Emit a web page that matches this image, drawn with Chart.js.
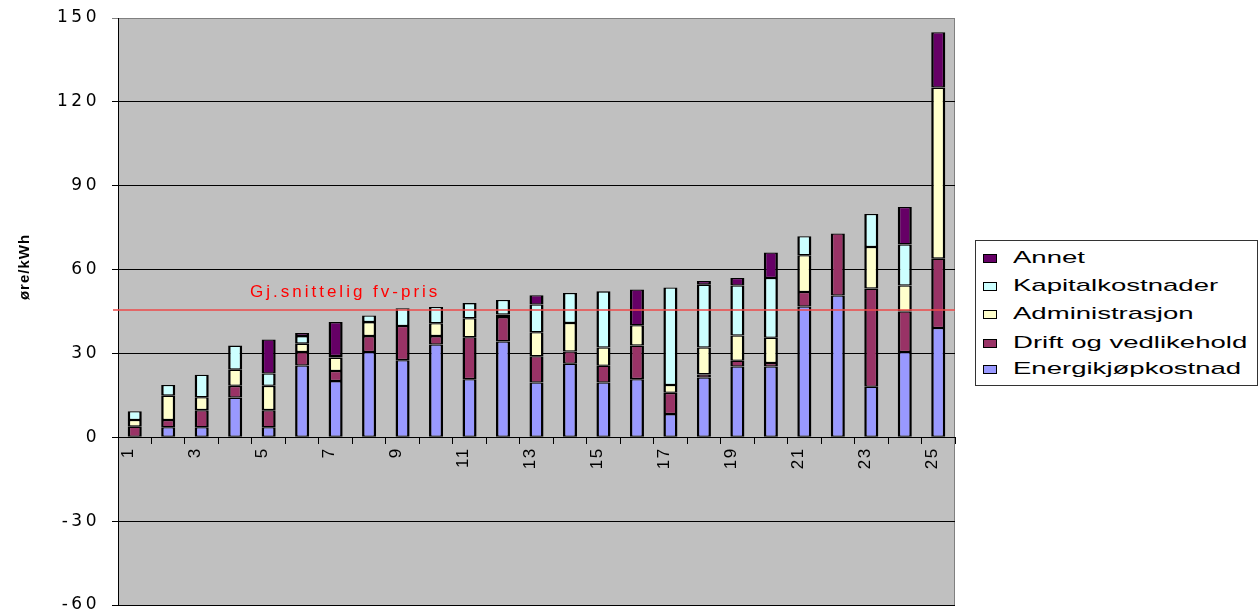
<!DOCTYPE html>
<html>
<head>
<meta charset="utf-8">
<script src="https://cdn.jsdelivr.net/npm/chart.js@4"></script>
<style>
  body { margin: 0; background: #fff; }
  #wrap { position: relative; width: 1260px; height: 613px; }
  #legend {
    position: absolute; left: 975px; top: 240px; width: 283px; height: 146px;
    box-sizing: border-box; border: 1px solid #333; background: #fff;
  }
  .legend-item { position: absolute; left: 7px; height: 20px; }
  .legend-item .sw { position: absolute; left: 0; top: 6px; width: 12px; height: 7px; border: 1px solid #000; }
  .legend-item .txt {
    position: absolute; left: 30px; top: 0; line-height: 20px; white-space: nowrap;
    font: 17px "Liberation Sans", Arial, sans-serif; color: #000;
    transform: scaleX(1.62); transform-origin: 0 50%;
  }
</style>
</head>
<body>
<div id="wrap">
  <canvas id="myChart" width="1260" height="613"></canvas>
  <div id="legend"></div>
</div>
<script>
const categories = ['1','2','3','4','5','6','7','8','9','10','11','12','13','14','15','16','17','18','19','20','21','22','23','24','25'];

const energi  = [0, 3.6, 3.6, 14.2, 3.6, 25.7, 20.1, 30.5, 27.6, 33.2, 20.8, 34.3, 19.6, 26.3, 19.6, 20.8, 8.3, 21.4, 25.3, 25.3, 46.8, 50.7, 18.1, 30.5, 39.1];
const drift   = [3.8, 2.6, 6.1, 4.2, 6.1, 4.8, 3.6, 5.7, 12.2, 3.0, 15.0, 8.7, 9.4, 4.4, 6.0, 12.0, 7.6, 1.1, 2.1, 1.3, 5.2, 22.2, 35.1, 14.5, 24.8];
const admin   = [2.4, 8.7, 4.6, 5.8, 8.7, 3.0, 4.8, 5.0, 0, 4.6, 6.8, 0.9, 8.6, 10.2, 6.5, 7.3, 2.8, 9.6, 9.0, 9.0, 13.1, 0, 14.9, 9.3, 61.2];
const kapital = [3.1, 3.8, 8.1, 8.6, 4.4, 2.7, 0.6, 2.4, 6.4, 5.8, 5.4, 5.2, 9.9, 10.7, 20.1, 0, 34.9, 22.5, 17.9, 21.4, 6.8, 0, 11.8, 14.7, 0];
const annet   = [0, 0, 0, 0, 12.2, 1.1, 12.1, 0, 0, 0, 0, 0, 3.3, 0, 0, 12.8, 0, 1.3, 2.7, 9.1, 0, 0, 0, 13.4, 19.8];

const avgPrice = 45.5;
const avgLabel = 'Gj.snittelig fv-pris';
const yTitle = 'øre/kWh';

const FONT = '"Liberation Sans", Arial, sans-serif';

// zero segments are left out so they don't draw a border line
function seg(arr) {
  return arr.map(v => v === 0 ? null : v);
}

function series(label, data, color) {
  return {
    label: label,
    data: seg(data),
    backgroundColor: color,
    borderColor: '#000',
    borderWidth: { top: 1.3, bottom: 1.3, left: 2.5, right: 2.5 },
    borderSkipped: false,
    inflateAmount: 0,
    barPercentage: 0.42,
    categoryPercentage: 1,
  };
}

// plot background, borders, average line, y title
const plotArea = {
  id: 'plotArea',
  beforeDraw(chart) {
    const { ctx, chartArea } = chart;
    ctx.save();
    ctx.fillStyle = '#c0c0c0';
    ctx.fillRect(chartArea.left, chartArea.top, chartArea.right - chartArea.left, chartArea.bottom - chartArea.top);
    ctx.strokeStyle = '#808080';
    ctx.lineWidth = 1;
    ctx.beginPath();
    ctx.moveTo(chartArea.right - 0.5, chartArea.top);
    ctx.lineTo(chartArea.right - 0.5, chartArea.bottom);
    ctx.stroke();
    ctx.restore();
    // y tick labels use this spacing
    ctx.letterSpacing = '3.5px';
  },
  afterDatasetsDraw(chart) {
    const { ctx, chartArea, scales } = chart;
    const py = scales.y.getPixelForValue(avgPrice);
    ctx.save();
    ctx.strokeStyle = '#ee4a4a';
    ctx.lineWidth = 1.5;
    ctx.beginPath();
    ctx.moveTo(chartArea.left - 5, py);
    ctx.lineTo(chartArea.right, py);
    ctx.stroke();
    ctx.letterSpacing = '3px';
    ctx.fillStyle = '#ff0000';
    ctx.font = '17px ' + FONT;
    ctx.textBaseline = 'alphabetic';
    ctx.fillText(avgLabel, 250, py - 13.5);

    // y axis title
    ctx.letterSpacing = '1px';
    ctx.fillStyle = '#000';
    ctx.font = 'bold 15px ' + FONT;
    ctx.textAlign = 'center';
    ctx.textBaseline = 'middle';
    ctx.translate(25, 267);
    ctx.rotate(-Math.PI / 2);
    ctx.fillText(yTitle, 0, 0);
    ctx.restore();
    // x labels are drawn after this
    ctx.letterSpacing = '1.5px';
  }
};

const ctx = document.getElementById('myChart').getContext('2d');

const chart = new Chart(ctx, {
  type: 'bar',
  data: {
    labels: categories,
    datasets: [
      series('Energikjøpkostnad', energi, '#9999ff'),
      series('Drift og vedlikehold', drift, '#993366'),
      series('Administrasjon', admin, '#ffffcc'),
      series('Kapitalkostnader', kapital, '#ccffff'),
      series('Annet', annet, '#660066'),
    ]
  },
  options: {
    responsive: false,
    animation: false,
    layout: { padding: { top: 18, right: 305, bottom: 8, left: 0 } },
    plugins: {
      legend: { display: false },
      tooltip: { enabled: false },
    },
    scales: {
      x: {
        stacked: true,
        position: { y: 0 },
        grid: { drawOnChartArea: false, tickLength: 6, color: '#000', offset: true },
        border: { color: '#000' },
        ticks: {
          autoSkip: false,
          maxRotation: 90,
          minRotation: 90,
          padding: 4,
          labelOffset: -6,
          color: '#000',
          font: { size: 17, family: FONT },
          z: 1,
          callback: function (value, index) {
            return index % 2 === 0 ? categories[index] : '';
          }
        },
        afterFit(scale) { scale.height = 0; }
      },
      y: {
        stacked: true,
        min: -60,
        max: 150,
        ticks: { stepSize: 30, color: '#000', padding: 12, font: { size: 17, family: '"DejaVu Sans", sans-serif' } },
        grid: {
          tickLength: 6,
          color: c => (c.tick && c.tick.value === 150) ? '#808080' : '#000',
        },
        border: { color: '#000' },
        afterFit(scale) {
          scale.width = 118;
          scale.paddingTop = 0;
          scale.paddingBottom = 0;
        }
      }
    }
  },
  plugins: [plotArea]
});

// legend, top series first
const legend = document.getElementById('legend');
const rowTops = [7, 35, 63, 92, 118];
chart.data.datasets.slice().reverse().forEach(function (ds, i) {
  const item = document.createElement('div');
  item.className = 'legend-item';
  item.style.top = rowTops[i] + 'px';
  item.innerHTML = '<span class="sw" style="background:' + ds.backgroundColor + '"></span><span class="txt"></span>';
  item.querySelector('.txt').textContent = ds.label;
  legend.appendChild(item);
});
</script>
</body>
</html>
